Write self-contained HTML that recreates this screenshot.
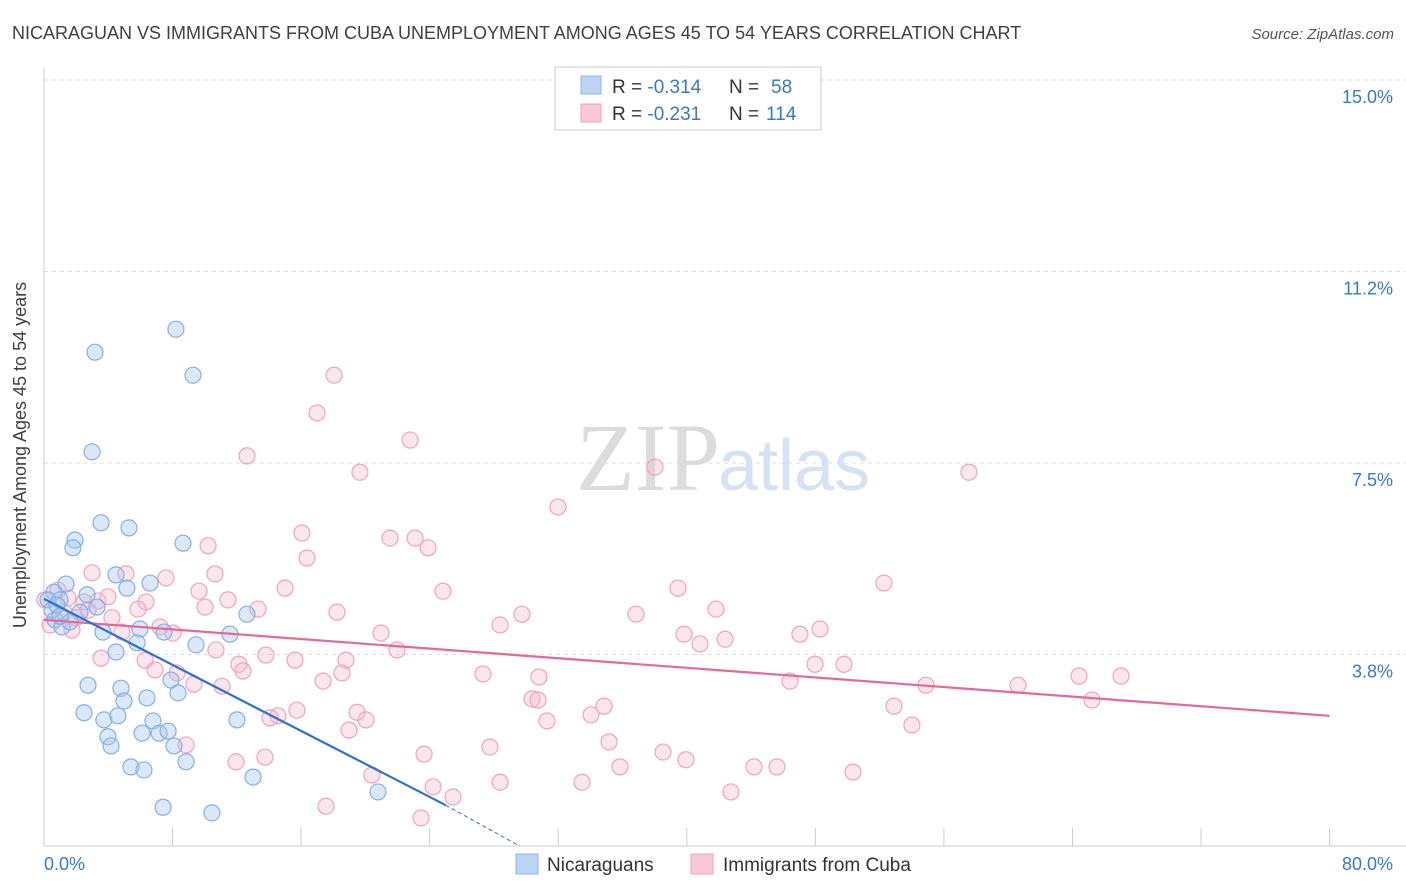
<!DOCTYPE html>
<html><head><meta charset="utf-8">
<style>
body{margin:0;background:#fff;font-family:"Liberation Sans",sans-serif;}
svg{display:block}
</style></head>
<body>
<svg id="chart" width="1406" height="892" xmlns="http://www.w3.org/2000/svg">
<text x="12" y="39" font-size="18" fill="#404040">NICARAGUAN VS IMMIGRANTS FROM CUBA UNEMPLOYMENT AMONG AGES 45 TO 54 YEARS CORRELATION CHART</text>
<text x="1394" y="39" font-size="15" fill="#555" font-style="italic" text-anchor="end">Source: ZipAtlas.com</text>
<g id="grid"></g>
<text x="720" y="490" font-size="96" fill="#dcdcdc" text-anchor="end" font-family="Liberation Serif,serif">ZIP</text>
<text x="718" y="490" font-size="72" fill="#d4e2f3">atlas</text>
<g id="points"></g>
<g id="lines"></g>
<text x="26" y="455" font-size="18" fill="#404040" text-anchor="middle" transform="rotate(-90 26 455)">Unemployment Among Ages 45 to 54 years</text>
<text x="44" y="870" font-size="18" fill="#3a78c9">0.0%</text>
<text x="1393" y="870" font-size="18" fill="#3a78c9" text-anchor="end">80.0%</text>
<g>
<rect x="555" y="67" width="266" height="63" fill="#fff" stroke="#ccc"/>
<rect x="581" y="76" width="20" height="18" fill="#bcd3f3" stroke="#8fb6e8"/>
<rect x="581" y="104" width="20" height="18" fill="#f9c9d8" stroke="#f0a0bc"/>
<text x="612" y="93" font-size="19" fill="#333">R = <tspan fill="#3a78c9">-0.314</tspan><tspan x="729">N = </tspan><tspan x="771" fill="#3a78c9">58</tspan></text>
<text x="612" y="120" font-size="19" fill="#333">R = <tspan fill="#3a78c9">-0.231</tspan><tspan x="729">N = </tspan><tspan x="766" fill="#3a78c9">114</tspan></text>
</g>
<g>
<rect x="516" y="854" width="22" height="20" fill="#bcd3f3" stroke="#8fb6e8"/>
<text x="547" y="871" font-size="19" fill="#333">Nicaraguans</text>
<rect x="691" y="854" width="22" height="20" fill="#f9c9d8" stroke="#f0a0bc"/>
<text x="723" y="871" font-size="19" fill="#333">Immigrants from Cuba</text>
</g>
</svg>
<script>
const yTicks=[15.0,11.25,7.5,3.75];
const yTickLabels=["15.0%","11.2%","7.5%","3.8%"];
const xTicks=[0,8,16,24,32,40,48,56,64,72,80];
const blueX=[8.21,3.17,9.27,2.99,3.55,5.29,1.93,1.80,8.65,4.48,1.37,6.60,0.62,5.16,2.68,1.00,3.30,2.24,12.63,0.68,1.12,1.62,3.67,5.97,7.47,11.57,5.79,9.46,4.48,2.74,4.79,7.90,6.41,8.34,4.98,2.49,3.73,4.60,6.78,12.01,6.10,7.16,7.72,3.98,4.17,8.09,8.84,5.41,6.22,13.01,20.78,7.41,10.45,0.25,0.50,0.81,1.00];
const blueY=[10.12,9.67,9.22,7.72,6.33,6.23,5.99,5.84,5.93,5.31,5.13,5.15,4.97,5.05,4.92,4.82,4.68,4.58,4.54,4.43,4.29,4.39,4.19,4.25,4.19,4.15,3.98,3.94,3.80,3.15,3.09,3.25,2.90,3.00,2.84,2.61,2.47,2.55,2.45,2.47,2.21,2.21,2.25,2.14,1.96,1.96,1.65,1.55,1.49,1.35,1.06,0.76,0.65,4.82,4.62,4.72,4.50];
const pinkX=[18.05,16.99,22.78,12.63,19.66,38.02,57.56,31.98,16.05,21.53,23.09,23.90,16.37,10.21,2.99,5.10,7.59,10.64,52.27,15.00,24.83,9.65,11.45,6.35,3.36,39.45,41.82,18.23,29.74,36.84,13.32,10.02,5.85,4.23,28.38,48.29,39.83,42.38,47.04,20.97,7.22,8.03,4.85,1.99,1.74,40.82,10.70,21.97,13.81,3.55,12.13,15.62,18.79,47.98,49.78,6.91,8.28,12.38,27.32,30.80,18.54,17.36,9.33,11.08,64.41,67.02,46.42,54.88,60.61,30.37,30.74,65.21,34.85,52.89,19.48,14.56,15.74,20.04,34.04,31.30,54.01,18.98,35.16,27.75,8.84,13.75,11.95,23.65,38.52,39.95,44.18,45.61,35.84,50.34,20.41,28.38,33.48,24.21,42.75,25.45,17.55,23.46,0.06,0.37,0.87,1.24,1.49,2.49,3.98,2.74,6.29,14.06];
const pinkY=[9.22,8.48,7.95,7.64,7.32,7.42,7.32,6.64,6.13,6.03,6.03,5.84,5.64,5.88,5.35,5.33,5.25,5.33,5.15,5.05,4.99,4.99,4.82,4.78,4.80,5.05,4.64,4.58,4.54,4.54,4.64,4.68,4.64,4.47,4.33,4.25,4.15,4.05,4.15,4.17,4.29,4.17,4.19,4.47,4.23,3.96,3.84,3.84,3.74,3.68,3.56,3.64,3.64,3.56,3.56,3.45,3.39,3.43,3.37,3.31,3.39,3.23,3.17,3.13,3.33,3.33,3.23,3.15,3.15,2.88,2.86,2.86,2.74,2.74,2.62,2.55,2.66,2.47,2.57,2.45,2.37,2.27,2.04,1.94,1.98,1.74,1.65,1.80,1.84,1.69,1.55,1.55,1.55,1.45,1.39,1.25,1.25,1.16,1.06,0.96,0.78,0.55,4.82,4.33,5.01,4.58,4.86,4.78,4.88,4.62,3.64,2.51];
const blueTrend=[[0,4.84],[25.0,0.80]];
const blueTrendExt=[[25.0,0.80],[29.6,0]];
const pinkTrend=[[0,4.43],[80,2.55]];

const NS="http://www.w3.org/2000/svg";
const sx=v=>44+v*16.07;
const sy=v=>80+(15-v)*51.07;
function mk(tag,attrs,parent){const e=document.createElementNS(NS,tag);for(const k in attrs)e.setAttribute(k,attrs[k]);parent.appendChild(e);return e;}
const grid=document.getElementById('grid');
let ax=mk('line',{x1:44,y1:68,x2:44,y2:846,stroke:'#ccc'},grid);


let bx=mk('line',{x1:44,y1:846,x2:1420,y2:846,stroke:'#ccc'},grid);


yTicks.forEach((t,i)=>{
 const g=mk('line',{x1:44,y1:sy(t),x2:1420,y2:sy(t),stroke:'#ddd','stroke-dasharray':'4,4'},grid);
 
 
 const l=mk('text',{x:1393,y:sy(t)+23,'font-size':18,fill:'#3a78c9','text-anchor':'end'},grid);
 l.textContent=yTickLabels[i];
 
 
});
xTicks.forEach(t=>{
 const k=mk('line',{x1:sx(t),y1:828,x2:sx(t),y2:846,stroke:'#ccc'},grid);
 
 
});
const pts=document.getElementById('points');
pinkX.forEach((x,i)=>{
 const c=mk('circle',{cx:sx(x),cy:sy(pinkY[i]),r:8,fill:'rgba(246,182,203,0.35)',stroke:'#f0a3bd','stroke-width':1.2},pts);
 
 
});
blueX.forEach((x,i)=>{
 const c=mk('circle',{cx:sx(x),cy:sy(blueY[i]),r:8,fill:'rgba(162,197,240,0.4)',stroke:'#86afe5','stroke-width':1.2},pts);
 
 
});
const lines=document.getElementById('lines');
let l1=mk('line',{x1:sx(pinkTrend[0][0]),y1:sy(pinkTrend[0][1]),x2:sx(pinkTrend[1][0]),y2:sy(pinkTrend[1][1]),stroke:'#e8679a','stroke-width':2.2},lines);


let l2=mk('line',{x1:sx(blueTrend[0][0]),y1:sy(blueTrend[0][1]),x2:sx(blueTrend[1][0]),y2:sy(blueTrend[1][1]),stroke:'#2f6fd6','stroke-width':2.2},lines);


let l3=mk('line',{x1:sx(blueTrendExt[0][0]),y1:sy(blueTrendExt[0][1]),x2:sx(blueTrendExt[1][0]),y2:sy(blueTrendExt[1][1]),stroke:'#2f6fd6','stroke-width':1,'stroke-dasharray':'4,3'},lines);


</script>
</body></html>
